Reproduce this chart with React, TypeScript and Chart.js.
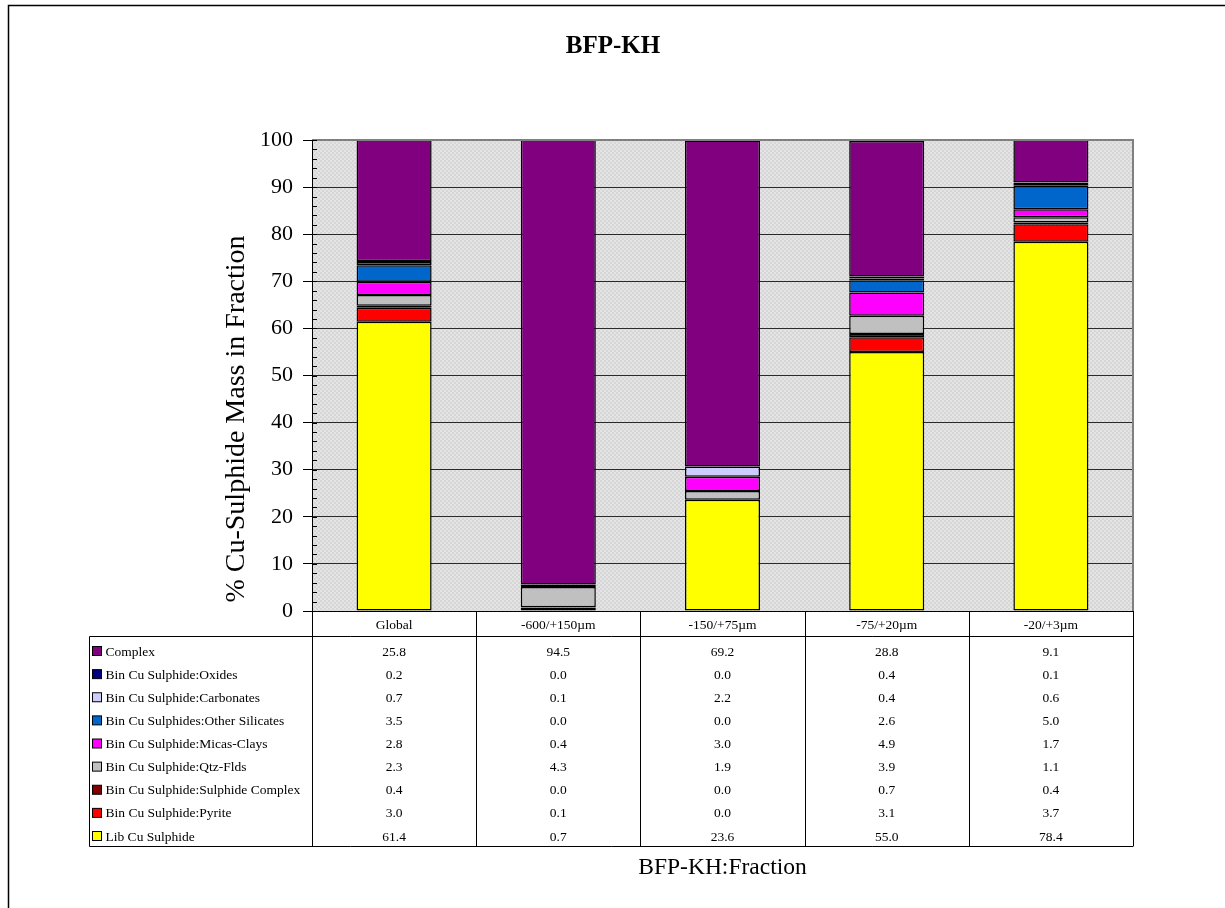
import React, { useEffect, useRef } from "react";
import { Chart, registerables } from "chart.js";

Chart.register(...registerables);

const FONT = "'Liberation Serif', 'Times New Roman', serif";

const chartTitle = "BFP-KH";
const xAxisTitle = "BFP-KH:Fraction";
const yAxisTitle = "% Cu-Sulphide Mass in Fraction";

const categories = ["Global", "-600/+150µm", "-150/+75µm", "-75/+20µm", "-20/+3µm"];

// Series values (per category)
const complexValues = [25.8, 94.5, 69.2, 28.8, 9.1];
const oxidesValues = [0.2, 0.0, 0.0, 0.4, 0.1];
const carbonatesValues = [0.7, 0.1, 2.2, 0.4, 0.6];
const otherSilicatesValues = [3.5, 0.0, 0.0, 2.6, 5.0];
const micasClaysValues = [2.8, 0.4, 3.0, 4.9, 1.7];
const qtzFldsValues = [2.3, 4.3, 1.9, 3.9, 1.1];
const sulphideComplexValues = [0.4, 0.0, 0.0, 0.7, 0.4];
const pyriteValues = [3.0, 0.1, 0.0, 3.1, 3.7];
const libValues = [61.4, 0.7, 23.6, 55.0, 78.4];

// Table / legend order (top to bottom)
const seriesNames = [
  "Complex",
  "Bin Cu Sulphide:Oxides",
  "Bin Cu Sulphide:Carbonates",
  "Bin Cu Sulphides:Other Silicates",
  "Bin Cu Sulphide:Micas-Clays",
  "Bin Cu Sulphide:Qtz-Flds",
  "Bin Cu Sulphide:Sulphide Complex",
  "Bin Cu Sulphide:Pyrite",
  "Lib Cu Sulphide",
];
const seriesValues = [
  complexValues,
  oxidesValues,
  carbonatesValues,
  otherSilicatesValues,
  micasClaysValues,
  qtzFldsValues,
  sulphideComplexValues,
  pyriteValues,
  libValues,
];
const seriesColors = [
  "#800080",
  "#000080",
  "#CCCCFF",
  "#0066CC",
  "#FF00FF",
  "#C0C0C0",
  "#800000",
  "#FF0000",
  "#FFFF00",
];

const yMin = 0;
const yMax = 100;
const yMajorStep = 10;
const yMinorStep = 2;

function makePattern(ctx: CanvasRenderingContext2D) {
  const c = document.createElement("canvas");
  c.width = 4;
  c.height = 4;
  const p = c.getContext("2d")!;
  p.fillStyle = "#e4e4e4";
  p.fillRect(0, 0, 4, 4);
  p.fillStyle = "#d6d6d6";
  p.fillRect(0, 0, 2, 2);
  p.fillRect(2, 2, 2, 2);
  return ctx.createPattern(c, "repeat");
}

const decorPlugin = {
  id: "decor",
  beforeDraw(chart: any) {
    const { ctx, chartArea } = chart;
    ctx.save();
    ctx.fillStyle = "#ffffff";
    ctx.fillRect(0, 0, chart.width, chart.height);
    const pat = makePattern(ctx);
    ctx.fillStyle = pat || "#e0e0e0";
    ctx.fillRect(chartArea.left, chartArea.top, chartArea.right - chartArea.left, chartArea.bottom - chartArea.top);
    ctx.restore();
  },
  afterDraw(chart: any) {
    const { ctx, chartArea } = chart;
    const xs = chart.scales.x;
    const ys = chart.scales.y;
    ctx.save();

    // outer frame
    ctx.strokeStyle = "#000";
    ctx.lineWidth = 1.5;
    ctx.beginPath();
    ctx.moveTo(8.5, chart.height);
    ctx.lineTo(8.5, 5.5);
    ctx.lineTo(chart.width, 5.5);
    ctx.stroke();

    // plot area top/right border
    ctx.strokeStyle = "#808080";
    ctx.lineWidth = 2;
    ctx.beginPath();
    ctx.moveTo(chartArea.left, chartArea.top);
    ctx.lineTo(chartArea.right, chartArea.top);
    ctx.lineTo(chartArea.right, chartArea.bottom);
    ctx.stroke();

    // axis lines
    ctx.strokeStyle = "#000";
    ctx.lineWidth = 1;
    ctx.beginPath();
    ctx.moveTo(Math.round(chartArea.left) + 0.5, chartArea.top);
    ctx.lineTo(Math.round(chartArea.left) + 0.5, chartArea.bottom);
    ctx.stroke();

    // inward ticks
    ctx.beginPath();
    for (let v = yMin; v <= yMax; v += yMinorStep) {
      const y = Math.round(ys.getPixelForValue(v)) + 0.5;
      ctx.moveTo(chartArea.left, y);
      ctx.lineTo(chartArea.left + 5, y);
    }
    ctx.stroke();

    // y axis title
    ctx.fillStyle = "#000";
    ctx.font = `28px ${FONT}`;
    ctx.textAlign = "center";
    ctx.textBaseline = "middle";
    ctx.translate(237, 419);
    ctx.rotate(-Math.PI / 2);
    ctx.fillText(yAxisTitle, 0, 0);
    ctx.setTransform(1, 0, 0, 1, 0, 0);

    // data table
    const tableLeft = 89.5;
    const headerTop = chartArea.bottom;
    const headerBottom = 636.5;
    const tableBottom = 846.5;
    const colW = (chartArea.right - chartArea.left) / categories.length;

    ctx.strokeStyle = "#000";
    ctx.lineWidth = 1;
    ctx.beginPath();
    ctx.moveTo(tableLeft, headerBottom);
    ctx.lineTo(chartArea.right, headerBottom);
    ctx.moveTo(tableLeft, headerBottom);
    ctx.lineTo(tableLeft, tableBottom);
    ctx.lineTo(chartArea.right, tableBottom);
    for (let k = 0; k <= categories.length; k++) {
      const x = Math.round(chartArea.left + k * colW) + 0.5;
      ctx.moveTo(x, headerTop);
      ctx.lineTo(x, tableBottom);
    }
    ctx.stroke();

    ctx.font = `13.5px ${FONT}`;
    ctx.textBaseline = "alphabetic";
    ctx.textAlign = "center";
    categories.forEach((c, i) => {
      ctx.fillText(c, xs.getPixelForValue(i), 628.5);
    });

    const rowStep = 23.125;
    seriesNames.forEach((name, r) => {
      const yc = 651 + r * rowStep;
      const base = yc + 4.5;
      // legend key
      ctx.fillStyle = seriesColors[r];
      ctx.fillRect(92.5, yc - 4.5, 9, 9);
      ctx.strokeStyle = "#000";
      ctx.lineWidth = 1;
      ctx.strokeRect(92.5, yc - 4.5, 9, 9);
      ctx.fillStyle = "#000";
      ctx.textAlign = "left";
      ctx.fillText(name, 105.5, base);
      ctx.textAlign = "center";
      seriesValues[r].forEach((v, i) => {
        ctx.fillText(v.toFixed(1), xs.getPixelForValue(i), base);
      });
    });

    ctx.restore();
  },
};

export default function App() {
  const canvasRef = useRef<HTMLCanvasElement | null>(null);

  useEffect(() => {
    const canvas = canvasRef.current;
    if (!canvas) return;
    const bottomUp = seriesNames.map((_, i) => seriesNames.length - 1 - i);
    const datasets = bottomUp.map((r) => ({
      label: seriesNames[r],
      data: seriesValues[r],
      backgroundColor: seriesColors[r],
      borderColor: "#000000",
      borderWidth: 1.5,
      borderSkipped: false as const,
      barPercentage: 0.457,
      categoryPercentage: 1,
    }));

    const chart = new Chart(canvas, {
      type: "bar",
      data: { labels: categories, datasets },
      options: {
        responsive: false,
        animation: false,
        devicePixelRatio: 1,
        layout: { padding: { left: 93, top: 0, right: 92, bottom: 0 } },
        plugins: {
          legend: { display: false },
          tooltip: { enabled: false },
          title: {
            display: true,
            text: chartTitle,
            color: "#000",
            font: { family: FONT, size: 25, weight: "bold", lineHeight: 1.2 },
            padding: { top: 32, bottom: 78 },
          },
        },
        scales: {
          x: {
            stacked: true,
            grid: { display: false },
            border: { display: true, color: "#000", width: 1 },
            ticks: { display: false },
            title: {
              display: true,
              text: xAxisTitle,
              color: "#000",
              font: { family: FONT, size: 23.5, lineHeight: 1.2 },
              padding: { top: 0, bottom: 26 },
            },
            afterFit: (s: any) => {
              s.height = 297;
            },
          },
          y: {
            stacked: true,
            min: yMin,
            max: yMax,
            border: { display: true, color: "#000", width: 1 },
            grid: {
              color: (c: any) => (c.tick && c.tick.value % yMajorStep === 0 ? "#2a2a2a" : "rgba(0,0,0,0)"),
              tickColor: (c: any) => (c.tick && c.tick.value % yMajorStep === 0 ? "#000" : "rgba(0,0,0,0)"),
              tickLength: 9,
              lineWidth: 1,
            },
            ticks: {
              stepSize: yMinorStep,
              autoSkip: false,
              padding: 10,
              color: "#000",
              font: { family: FONT, size: 22 },
              callback: (v: any) => (Number(v) % yMajorStep === 0 ? String(v) : ""),
            },
            afterFit: (s: any) => {
              s.width = 219;
            },
          },
        },
      },
      plugins: [decorPlugin],
    });

    return () => chart.destroy();
  }, []);

  return (
    <div style={{ position: "fixed", left: 0, top: 0, width: 1225, height: 908, background: "#fff" }}>
      <canvas ref={canvasRef} width={1225} height={908} style={{ width: 1225, height: 908, display: "block" }} />
    </div>
  );
}
